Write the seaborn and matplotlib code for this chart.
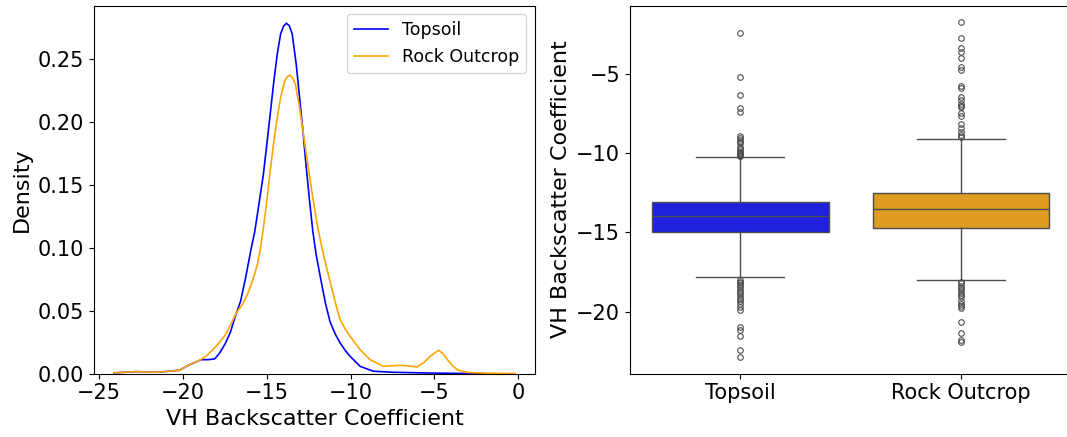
import matplotlib
matplotlib.use("Agg")
import matplotlib.pyplot as plt
import pandas as pd
import seaborn as sns

# Density curves of VH backscatter per land-cover class
topsoil_x = [-24.1, -22.8, -21.5, -20.2, -19.6, -18.9, -18.5, -18.1, -17.8, -17.46,
             -17.16, -16.86, -16.56, -16.26, -15.96, -15.71, -15.47, -15.2, -14.97, -14.77,
             -14.57, -14.37, -14.17, -14.0, -13.83, -13.65, -13.48, -13.24, -13.04, -12.84,
             -12.64, -12.44, -12.25, -12.05, -11.79, -11.5, -11.22, -10.9, -10.63, -10.3,
             -10.03, -9.43, -8.64, -7.5, -6.5, -5.0, -3.5, -2.0]
topsoil_density = [0.0005, 0.0015, 0.001, 0.0026, 0.007, 0.011, 0.011, 0.0116, 0.0164, 0.024,
                   0.033, 0.046, 0.0573, 0.0759, 0.097, 0.113, 0.134, 0.158, 0.1848, 0.2088,
                   0.2327, 0.254, 0.270, 0.276, 0.2785, 0.2765, 0.270, 0.246, 0.2195, 0.1927,
                   0.1636, 0.1368, 0.113, 0.0944, 0.0759, 0.056, 0.041, 0.031, 0.0244, 0.018,
                   0.0137, 0.0057, 0.0018, 0.001, 0.0007, 0.0003, 0.0001, 0.0]

rock_x = [-24.1, -22.8, -21.5, -20.2, -19.6, -19.0, -18.6, -18.2, -17.8, -17.46,
          -17.06, -16.76, -16.46, -16.16, -15.86, -15.56, -15.37, -15.17, -14.97, -14.77,
          -14.57, -14.37, -14.17, -13.92, -13.77, -13.62, -13.45, -13.28, -13.04, -12.78,
          -12.52, -12.25, -11.99, -11.79, -11.5, -11.22, -10.9, -10.63, -10.3, -10.03,
          -9.43, -8.84, -8.04, -7.5, -7.04, -6.5, -6.05, -5.6, -5.25, -4.76,
          -4.5, -4.2, -3.9, -3.6, -3.0, -2.0, -1.0, -0.2]
rock_density = [0.0005, 0.0015, 0.001, 0.0026, 0.0071, 0.0105, 0.014, 0.019, 0.025, 0.0307,
                0.0413, 0.0493, 0.0546, 0.0625, 0.0731, 0.0864, 0.0997, 0.1184, 0.1397, 0.1636,
                0.1848, 0.2035, 0.2195, 0.2327, 0.2360, 0.2372, 0.2350, 0.2297, 0.2112, 0.1875,
                0.1636, 0.1397, 0.1184, 0.105, 0.088, 0.073, 0.056, 0.043, 0.035, 0.0296,
                0.019, 0.011, 0.0057, 0.0062, 0.0065, 0.006, 0.0052, 0.009, 0.0137, 0.0185,
                0.016, 0.0106, 0.006, 0.0027, 0.0008, 0.0003, 0.0001, 0.0]

# Box-plot summary per class
classes = ["Topsoil", "Rock Outcrop"]
class_colors = ["blue", "orange"]
medians = [-13.98, -13.54]
q1s = [-15.0, -14.72]
q3s = [-13.08, -12.49]
whisker_lows = [-17.83, -18.0]
whisker_highs = [-10.26, -9.14]
topsoil_outliers = [-2.41, -5.19, -6.33, -7.17, -7.42, -8.93, -9.02, -9.17, -9.27, -9.38,
                    -9.6, -9.7, -9.8, -9.9, -10.0, -10.05, -10.1, -10.15, -10.2,
                    -18.0, -18.1, -18.2, -18.3, -18.45, -18.6, -18.75, -18.9, -19.05, -19.2,
                    -19.35, -19.5, -19.7, -19.9, -20.95, -21.16, -21.54, -22.42, -22.84]
rock_outliers = [-1.76, -2.73, -3.34, -3.63, -4.01, -4.54, -4.75, -5.74, -5.90, -6.43,
                 -6.64, -6.89, -7.02, -7.10, -7.48, -7.69, -8.16, -8.43, -8.64, -8.85, -9.0,
                 -18.1, -18.2, -18.35, -18.5, -18.65, -18.8, -18.95, -19.1, -19.3, -19.5,
                 -19.65, -19.79, -20.63, -21.37, -21.79, -21.9]
outliers = [topsoil_outliers, rock_outliers]

TICK_FS = 15
LABEL_FS = 16

fig = plt.figure(figsize=(10.67, 4.37), dpi=100)
ax_kde = fig.add_axes([0.0881, 0.1453, 0.4133, 0.8416])
ax_box = fig.add_axes([0.5904, 0.1453, 0.4138, 0.8416])

# Left: density curves
kde_df = pd.concat([
    pd.DataFrame({"x": topsoil_x, "density": topsoil_density, "class": classes[0]}),
    pd.DataFrame({"x": rock_x, "density": rock_density, "class": classes[1]}),
])
sns.lineplot(data=kde_df, x="x", y="density", hue="class", hue_order=classes,
             palette=class_colors, linewidth=1.2, ax=ax_kde)
ax_kde.set_ylim(bottom=0)
ax_kde.set_xlabel("VH Backscatter Coefficient", fontsize=LABEL_FS)
ax_kde.set_ylabel("Density", fontsize=LABEL_FS)
ax_kde.tick_params(labelsize=TICK_FS)
ax_kde.set_yticks([0.0, 0.05, 0.10, 0.15, 0.20, 0.25])
ax_kde.yaxis.set_major_formatter(matplotlib.ticker.FormatStrFormatter("%.2f"))
ax_kde.legend(title=None, fontsize=12.5, loc="upper right")

# Right: box plots drawn from the summary statistics
line_gray = (0.3, 0.3, 0.3)
stats = []
for i, name in enumerate(classes):
    stats.append(dict(label=name, med=medians[i], q1=q1s[i], q3=q3s[i],
                      whislo=whisker_lows[i], whishi=whisker_highs[i],
                      fliers=outliers[i]))
positions = list(range(len(classes)))
artists = ax_box.bxp(stats, positions=positions, widths=0.8, patch_artist=True,
                     manage_ticks=False,
                     boxprops=dict(edgecolor=line_gray, linewidth=1.0),
                     medianprops=dict(color=line_gray, linewidth=1.0),
                     whiskerprops=dict(color=line_gray, linewidth=1.0),
                     capprops=dict(color=line_gray, linewidth=1.0),
                     flierprops=dict(marker="o", markerfacecolor="none",
                                     markeredgecolor=line_gray, markersize=4,
                                     markeredgewidth=0.8))
for patch, c in zip(artists["boxes"], class_colors):
    patch.set_facecolor(sns.desaturate(c, 0.75))
ax_box.set_xlim(-0.5, len(classes) - 0.5)
ax_box.set_xticks(positions)
ax_box.set_xticklabels(classes)
ax_box.set_ylabel("VH Backscatter Coefficient", fontsize=LABEL_FS)
ax_box.tick_params(labelsize=TICK_FS)

fig.savefig("out.png", dpi=100)
